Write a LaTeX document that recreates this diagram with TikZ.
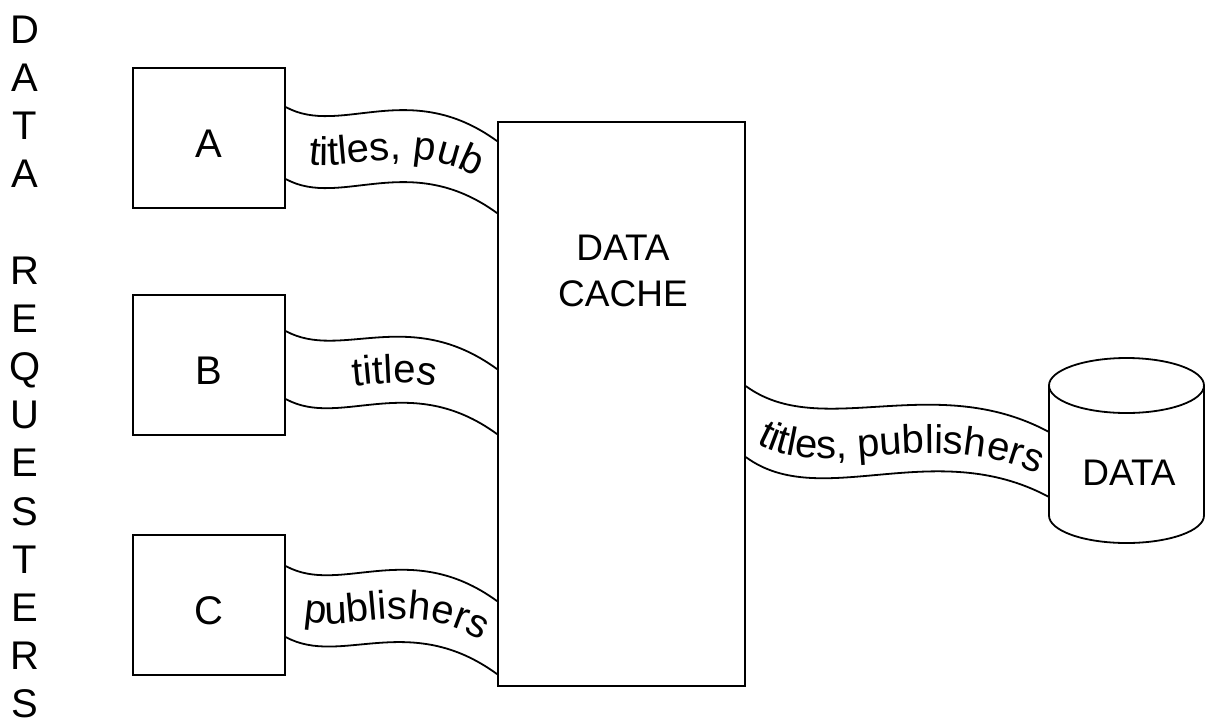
\documentclass[tikz,border=0pt]{standalone}
\usepackage{fontspec}
\setmainfont{Liberation Sans}
\usetikzlibrary{calc,decorations.text}
\newcommand\bigfont{\fontsize{40}{48}\selectfont}
\newcommand\midfont{\fontsize{37}{46}\selectfont}
\begin{document}
\begin{tikzpicture}[x=1pt,y=-1pt,line width=1.8pt,
  box/.style={draw, minimum width=152pt, minimum height=140pt, inner sep=0pt,
    font=\bigfont, text height=38pt, text depth=0pt},
  vletter/.style={anchor=base, font=\bigfont, inner sep=0pt},
  ribbon/.style={line width=1.8pt},
  rtext/.style={decorate, decoration={text along path, text align=center, text={#1}}}]
\useasboundingbox (0,0) rectangle (1205,724);
% vertical label
\foreach \ch [count=\i from 0] in {D,A,T,A}
  \node[vletter] (v\i) at (25,{43+48.2*\i}) {\ch};
\foreach \ch [count=\i from 5] in {R,E,Q,U,E,S,T,E,R,S}
  \node[vletter] (v\i) at (25,{43+48.2*\i}) {\ch};
% requesters
\node[box] (A) at (209,138) {A};
\node[box] (B) at (209,365) {B};
\node[box] (C) at (209,605) {C};
% cache
\node[draw, minimum width=247pt, minimum height=564pt, inner sep=0pt] (cache) at (621.5,404) {};
\node[font=\midfont, align=center, inner sep=0pt] (cachetext) at (623,271) {DATA\\CACHE};
% database cylinder
\coordinate (cyl) at (1126.5,385.5);
\draw (cyl) ellipse [x radius=77.5pt, y radius=27.5pt];
\draw ($(cyl)+(-77.5,0)$) -- ($(cyl)+(-77.5,130)$)
  arc[start angle=180, end angle=360, x radius=77.5pt, y radius=27.5pt]
  -- ($(cyl)+(77.5,0)$);
\node[font=\midfont, inner sep=0pt] (db) at (1129,473) {DATA};
% ribbon end points
\coordinate (at1) at ($(A.north east)+(0,40)$);
\coordinate (ab1) at ($(A.north east)+(0,112)$);
\coordinate (at2) at ($(cache.north west)+(0,20)$);
\coordinate (ab2) at ($(cache.north west)+(0,92)$);
\coordinate (bt1) at ($(B.north east)+(0,37)$);
\coordinate (bb1) at ($(B.north east)+(0,105)$);
\coordinate (bt2) at ($(cache.north west)+(0,248)$);
\coordinate (bb2) at ($(cache.north west)+(0,313)$);
\coordinate (ct1) at ($(C.north east)+(0,32)$);
\coordinate (cb1) at ($(C.north east)+(0,103)$);
\coordinate (ct2) at ($(cache.north west)+(0,480)$);
\coordinate (cb2) at ($(cache.north west)+(0,553)$);
\coordinate (rt1) at ($(cache.north east)+(0,265)$);
\coordinate (rb1) at ($(cache.north east)+(0,336)$);
\coordinate (rt2) at ($(cyl)+(-77.5,46.5)$);
\coordinate (rb2) at ($(cyl)+(-77.5,111.5)$);
% text baselines
\coordinate (am1) at ($(at1)!0.5!(ab1)+(0,13)$);
\coordinate (am2) at ($(at2)!0.5!(ab2)+(0,13)$);
\coordinate (bm1) at ($(bt1)!0.5!(bb1)+(0,13)$);
\coordinate (bm2) at ($(bt2)!0.5!(bb2)+(0,13)$);
\coordinate (cm1) at ($(ct1)!0.5!(cb1)+(0,13)$);
\coordinate (cm2) at ($(ct2)!0.5!(cb2)+(0,13)$);
\coordinate (rm1) at ($(rt1)!0.5!(rb1)+(0,15)$);
\coordinate (rm2) at ($(rt2)!0.5!(rb2)+(0,15)$);
% left ribbons
\foreach \r in {a,b,c}{
  \draw[ribbon] (\r t1) .. controls +(55,30) and +(-88,-64) .. (\r t2);
  \draw[ribbon] (\r b1) .. controls +(55,30) and +(-88,-64) .. (\r b2);
}
\path[rtext={|\bigfont|titles, pub}] (am1) .. controls +(55,30) and +(-88,-64) .. (am2);
\path[rtext={|\bigfont|titles}] (bm1) .. controls +(55,30) and +(-88,-64) .. (bm2);
\path[rtext={|\bigfont|publishers}] (cm1) .. controls +(55,30) and +(-88,-64) .. (cm2);
% right ribbon
\draw[ribbon] (rt1) .. controls +(75,55) and +(-115,-62) .. (rt2);
\draw[ribbon] (rb1) .. controls +(75,55) and +(-115,-62) .. (rb2);
\path[rtext={|\bigfont|titles, publishers}] (rm1) .. controls +(75,55) and +(-115,-62) .. (rm2);
\end{tikzpicture}
\end{document}
